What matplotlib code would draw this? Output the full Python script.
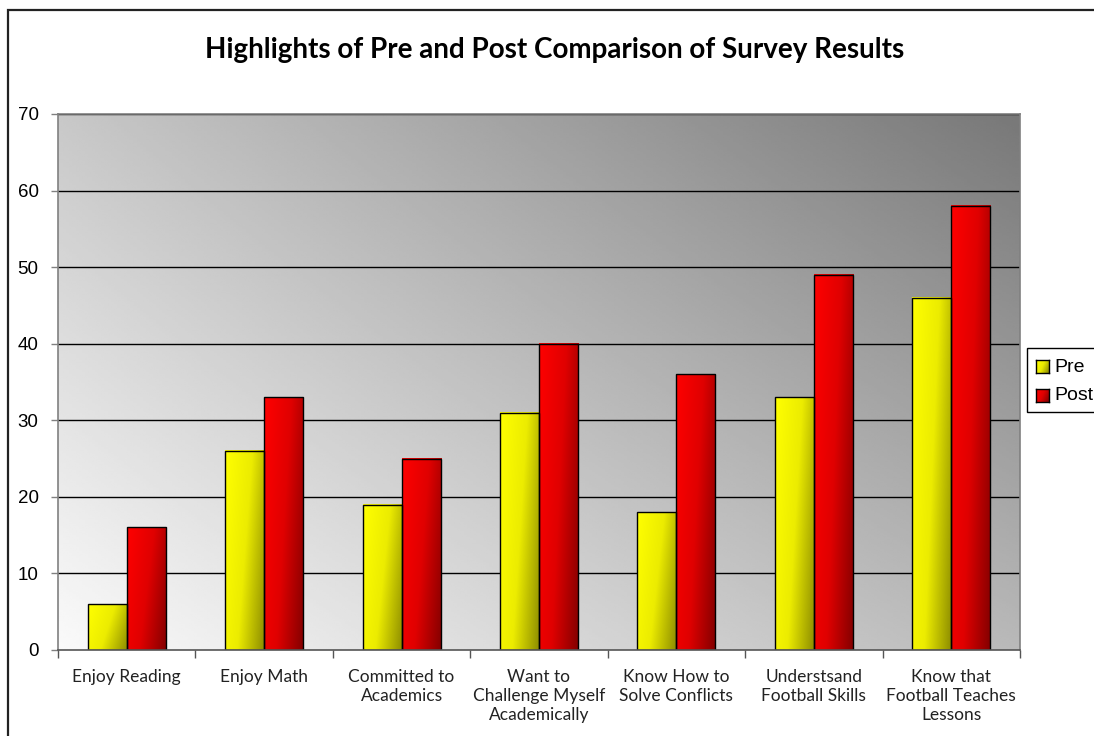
import numpy as np
import matplotlib
matplotlib.use("Agg")
import matplotlib.pyplot as plt
from matplotlib.patches import Rectangle
from matplotlib.colors import LinearSegmentedColormap

categories = [
    "Enjoy Reading",
    "Enjoy Math",
    "Committed to\nAcademics",
    "Want to\nChallenge Myself\nAcademically",
    "Know How to\nSolve Conflicts",
    "Understsand\nFootball Skills",
    "Know that\nFootball Teaches\nLessons",
]
pre_values = [6, 26, 19, 31, 18, 33, 46]
post_values = [16, 33, 25, 40, 36, 49, 58]
series_names = ["Pre", "Post"]
y_ticks = [0, 10, 20, 30, 40, 50, 60, 70]

W, H = 1094, 736
fig = plt.figure(figsize=(W / 100, H / 100), dpi=100)
fig.patch.set_facecolor("white")

# outer chart frame (runs off the right and bottom edges)
frame = Rectangle((8 / W, -0.05), 1.2, 1 - 10 / H + 0.05,
                  transform=fig.transFigure, fill=False,
                  edgecolor="#222222", linewidth=1.6, zorder=1)
fig.add_artist(frame)

ax = fig.add_axes([58 / W, 1 - 650 / H, (1020 - 58) / W, (650 - 114) / H])
ax.set_zorder(2)
n = len(categories)
ax.set_xlim(0, n)
ax.set_ylim(0, 70)

# diagonal grey background of the plot area
gx, gy = np.meshgrid(np.linspace(0, 1, 300), np.linspace(0, 1, 300))
bg = 250 - 50 * gy - 65 * gx - 15 * gx * gy
ax.imshow(bg / 255.0, cmap="gray", vmin=0, vmax=1, origin="lower",
          extent=(0, n, 0, 70), aspect="auto", zorder=0, interpolation="bilinear")

for yv in y_ticks[1:]:
    ax.axhline(yv, color="black", linewidth=1.0, zorder=1)

yellow_cmap = LinearSegmentedColormap.from_list("pre", ["#ffff00", "#ecec00", "#8c8c00"])
red_cmap = LinearSegmentedColormap.from_list("post", ["#ff0000", "#e00000", "#820000"])

bar_w = 0.284
bx, by = np.meshgrid(np.linspace(0, 1, 60), np.linspace(0, 1, 200))
shade = 0.72 * bx + 0.28 * (1 - by)


def gradient_bar(x0, height, cmap):
    ax.imshow(shade, cmap=cmap, vmin=0, vmax=1, origin="lower",
              extent=(x0, x0 + bar_w, 0, height), aspect="auto",
              zorder=2, interpolation="bilinear")
    ax.add_patch(Rectangle((x0, 0), bar_w, height, fill=False,
                           edgecolor="black", linewidth=1.0, zorder=3))


centers = np.arange(n) + 0.5
for c, pv, qv in zip(centers, pre_values, post_values):
    gradient_bar(c - bar_w, pv, yellow_cmap)
    gradient_bar(c, qv, red_cmap)

ax.set_xlim(0, n)
ax.set_ylim(0, 70)

for side in ["left", "top", "right"]:
    ax.spines[side].set_color("#808080")
    ax.spines[side].set_linewidth(1.2)
ax.spines["bottom"].set_color("#555555")
ax.spines["bottom"].set_linewidth(1.2)
for s in ax.spines.values():
    s.set_zorder(4)

ax.set_yticks(y_ticks)
ax.set_yticklabels([str(v) for v in y_ticks], fontsize=13.5,
                   family="Liberation Sans")
ax.tick_params(axis="y", direction="out", length=5, width=1, color="#808080", pad=9)

ax.set_xticks(np.arange(n + 1))
ax.set_xticklabels([])
ax.set_xticks(centers, minor=True)
ax.set_xticklabels(categories, minor=True, fontsize=12.5, family="Lato",
                   color="#222222", linespacing=1.2, va="top")
ax.tick_params(axis="x", which="major", direction="out", length=6, width=1, color="#555555")
ax.tick_params(axis="x", which="minor", length=0, pad=14)

fig.text(555 / W, 1 - 50 / H, "Highlights of Pre and Post Comparison of Survey Results",
         ha="center", va="center", fontsize=20, fontweight="bold", family="Lato")

# legend box (clipped at the right edge of the figure)
lx, ly, lw, lh = 1027, 348, 80, 64
legend_box = Rectangle((lx / W, 1 - (ly + lh) / H), lw / W, lh / H,
                       transform=fig.transFigure, facecolor="white",
                       edgecolor="black", linewidth=1.0, zorder=3)
fig.add_artist(legend_box)
for i, (name, cmap) in enumerate(zip(series_names, [yellow_cmap, red_cmap])):
    cy = ly + 19 + i * 29
    sx, sy = 1036, cy - 7
    sax = fig.add_axes([sx / W, 1 - (sy + 13) / H, 13 / W, 13 / H])
    sax.set_zorder(5)
    sx_grid, sy_grid = np.meshgrid(np.linspace(0, 1, 20), np.linspace(0, 1, 20))
    sax.imshow(0.7 * sx_grid + 0.3 * sy_grid, cmap=cmap, vmin=0, vmax=1,
               aspect="auto", interpolation="bilinear")
    sax.set_xticks([])
    sax.set_yticks([])
    for s in sax.spines.values():
        s.set_color("black")
        s.set_linewidth(1.0)
    fig.text(1054 / W, 1 - cy / H, name, ha="left", va="center",
             fontsize=14, family="Liberation Sans", zorder=6)

fig.savefig("out.png", dpi=100, facecolor="white")
